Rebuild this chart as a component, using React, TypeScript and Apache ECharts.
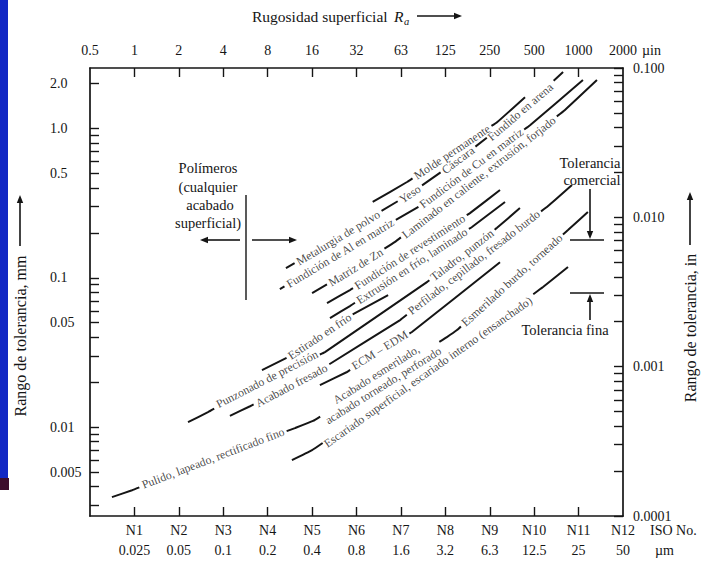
import React, { useEffect, useRef } from "react";
import * as echarts from "echarts";

const SERIF = "'Liberation Serif', 'DejaVu Serif', serif";
const INK = "#151515";
const GRID = { left: 90, top: 68, width: 533, height: 448 };
const LABEL_SIZE = 11.8;

// Top axis: Ra in micro-inches (nominal), bottom axis: ISO grade and Ra in micrometres
const topRoughnessLabels = ["0.5", "1", "2", "4", "8", "16", "32", "63", "125", "250", "500", "1000", "2000"];
const isoGrades = ["N1", "N2", "N3", "N4", "N5", "N6", "N7", "N8", "N9", "N10", "N11", "N12"];
const raMicrometres = ["0.025", "0.05", "0.1", "0.2", "0.4", "0.8", "1.6", "3.2", "6.3", "12.5", "25", "50"];

// Left axis (mm) and right axis (in)
const mmLabelValues = [2, 1, 0.5, 0.1, 0.05, 0.01, 0.005];
const mmLabelTexts = ["2.0", "1.0", "0.5", "0.1", "0.05", "0.01", "0.005"];
const mmTickValues = [2, 1, 0.9, 0.8, 0.7, 0.6, 0.5, 0.4, 0.3, 0.2, 0.1, 0.09, 0.08, 0.07, 0.06, 0.05, 0.04, 0.03, 0.02, 0.01, 0.009, 0.008, 0.007, 0.006, 0.005, 0.004, 0.003];
const inLabelValues = [0.1, 0.01, 0.001, 0.0001];
const inLabelTexts = ["0.100", "0.010", "0.001", "0.0001"];
const inTickValues = [0.1, 0.09, 0.08, 0.07, 0.06, 0.05, 0.04, 0.03, 0.02, 0.01, 0.009, 0.008, 0.007, 0.006, 0.005, 0.004, 0.003, 0.002, 0.001, 0.0009, 0.0008, 0.0007, 0.0006, 0.0005, 0.0004, 0.0003, 0.0002, 0.0001];

// Process lanes: [Ra (µm), tolerance range (mm)]
const laneMolde = [[1.03, 0.322], [1.76, 0.438], [3.55, 0.695], [7.17, 1.1], [11.1, 1.62]];
const laneArena = [[0.266, 0.116], [0.599, 0.185], [1.15, 0.276], [1.84, 0.364], [3.9, 0.614], [10.3, 1.29], [20.1, 2.39]];
const laneMatriz = [[0.242, 0.0841], [0.618, 0.146], [1.25, 0.222], [2.33, 0.317], [5.33, 0.587], [12.0, 1.05], [27.4, 2.11]];
const laneLaminado = [[0.4, 0.079], [0.794, 0.118], [1.46, 0.174], [5.67, 0.488], [20.7, 1.33], [34.1, 2.11]];
const laneRevest = [[0.505, 0.0677], [0.722, 0.0828], [1.84, 0.149], [4.7, 0.271], [7.51, 0.387]];
const laneExtrusion = [[0.529, 0.0537], [0.722, 0.0647], [1.9, 0.12], [4.85, 0.219], [8.12, 0.322]];
const laneEstirado = [[0.183, 0.0241], [0.275, 0.0294], [0.452, 0.0407], [0.757, 0.0571], [1.31, 0.0766]];
const laneTaladro = [[0.0577, 0.0108], [0.0788, 0.0126], [0.198, 0.021], [0.489, 0.0318], [2.4, 0.0936], [4.15, 0.142], [7.17, 0.216], [10.25, 0.293]];
const lanePerfilado = [[0.111, 0.0119], [0.152, 0.0138], [0.27, 0.0183], [0.474, 0.0248], [1.58, 0.0521], [5.0, 0.127], [15.9, 0.302], [23.1, 0.418]];
const laneEcm = [[0.452, 0.0191], [0.69, 0.0234], [1.15, 0.0328], [1.9, 0.0433], [7.51, 0.127]];
const lanePulido = [[0.0176, 0.0034], [0.0241, 0.00378], [0.0852, 0.0062], [0.306, 0.00985], [0.406, 0.011], [1.15, 0.0207], [3.28, 0.0401], [3.84, 0.0447], [9.05, 0.0966], [21.7, 0.209], [29.6, 0.276]];
const laneEscariado = [[0.292, 0.00601], [0.4, 0.00701], [2.44, 0.0234], [14.7, 0.0867], [21.7, 0.118]];

const lanes = [laneMolde, laneArena, laneMatriz, laneLaminado, laneRevest, laneExtrusion, laneEstirado, laneTaladro, lanePerfilado, laneEcm, lanePulido, laneEscariado];

// Labels along lanes: lane index, Ra (µm) at label centre, text
const labelLane = [0, 1, 1, 1, 1, 2, 2, 3, 3, 4, 5, 6, 7, 7, 8, 8, 9, 10, 10, 10, 11];
const labelRa = [3.55, 0.6, 1.84, 3.9, 10.3, 0.62, 4.8, 0.79, 5.4, 1.84, 1.9, 0.45, 0.198, 4.15, 0.29, 5.0, 1.15, 0.0852, 1.15, 9.05, 2.44];
const labelText = [
  "Molde permanente",
  "Metalurgia de polvo",
  "Yeso",
  "Cáscara",
  "Fundido en arena",
  "Fundición de Al en matriz",
  "Fundición de Cu en matriz",
  "Matriz de Zn",
  "Laminado en caliente, extrusión, forjado",
  "Fundición de revestimiento",
  "Extrusión en frío, laminado",
  "Estirado en frío",
  "Punzonado de precisión",
  "Taladro, punzón",
  "Acabado fresado",
  "Perfilado, cepillado, fresado burdo",
  "ECM – EDM",
  "Pulido, lapeado, rectificado fino",
  "Acabado esmerilado,\nacabado torneado, perforado",
  "Esmerilado burdo, torneado",
  "Escariado superficial, escariado interno (ensanchado)",
];

const lg = Math.log10;
const toN = (ra: number) => Math.log2(ra / 0.0125);
const Y0 = lg(0.00254);
const Y1 = lg(2.54);
const pxPerN = GRID.width / 12;
const pxPerDec = GRID.height / (Y1 - Y0);

function laneAt(pts: number[][], n: number) {
  let i = 0;
  if (n <= pts[0][0]) i = 0;
  else if (n >= pts[pts.length - 1][0]) i = pts.length - 2;
  else {
    for (let k = 0; k < pts.length - 1; k++) {
      if (n >= pts[k][0] && n <= pts[k + 1][0]) { i = k; break; }
    }
  }
  const a = pts[i], b = pts[i + 1];
  return a[1] + ((b[1] - a[1]) * (n - a[0])) / (b[0] - a[0]);
}

function nearestText(vals: number[], texts: string[], v: number) {
  let bi = 0, bd = Infinity;
  vals.forEach((x, i) => { const d = Math.abs(lg(x) - v); if (d < bd) { bd = d; bi = i; } });
  return texts[bi];
}

function arrow(x1: number, y1: number, x2: number, y2: number, head = 8, hw = 3.2) {
  const dx = x2 - x1, dy = y2 - y1, L = Math.hypot(dx, dy), ux = dx / L, uy = dy / L;
  const bx = x2 - ux * head, by = y2 - uy * head;
  return [
    { type: "line", silent: true, shape: { x1, y1, x2: bx, y2: by }, style: { stroke: INK, lineWidth: 1.6 } },
    { type: "polygon", silent: true, shape: { points: [[x2, y2], [bx - uy * hw, by + ux * hw], [bx + uy * hw, by - ux * hw]] }, style: { fill: INK } },
  ];
}

function txt(x: number, y: number, text: string, size = 14, align = "center", rot = 0, italic = false) {
  return {
    type: "text", silent: true, x, y, rotation: rot,
    style: {
      text, fill: INK, fontSize: size, fontFamily: SERIF, fontStyle: italic ? "italic" : "normal",
      align, textAlign: align, verticalAlign: "middle", textVerticalAlign: "middle",
    },
  };
}

function hline(x1: number, x2: number, y: number) {
  return { type: "line", silent: true, shape: { x1, y1: y, x2, y2: y }, style: { stroke: INK, lineWidth: 1.4 } };
}

export default function App() {
  const ref = useRef<HTMLDivElement>(null);
  useEffect(() => {
    if (!ref.current) return;
    const chart = echarts.init(ref.current, null, { renderer: "svg", width: 709, height: 564 });

    const ctx = document.createElement("canvas").getContext("2d") as CanvasRenderingContext2D;
    ctx.font = `${LABEL_SIZE}px ${SERIF}`;

    const lanePts = lanes.map((lane) => lane.map(([r, m]) => [toN(r), lg(m)]));
    const gaps: number[][][] = lanes.map(() => []);

    const labelData = labelText.map((t, i) => {
      const li = labelLane[i];
      const pts = lanePts[li];
      const n = toN(labelRa[i]);
      const y = laneAt(pts, n);
      const dy = (laneAt(pts, n + 0.5) - laneAt(pts, n - 0.5)) * pxPerDec;
      const angR = Math.atan2(dy, pxPerN);
      const w = Math.max(...t.split("\n").map((s) => ctx.measureText(s).width));
      const half = ((w / 2 + 3) * Math.cos(angR)) / pxPerN;
      gaps[li].push([n - half, n + half]);
      return { value: [n, y], name: t, label: { rotate: (angR * 180) / Math.PI } };
    });

    const laneData = lanePts.map((pts, li) => {
      const gs = gaps[li];
      const inGap = (n: number) => gs.some((g) => n > g[0] && n < g[1]);
      const items: { n: number; y: number; k: number }[] = pts
        .filter((p) => !inGap(p[0]))
        .map((p) => ({ n: p[0], y: p[1], k: 0 }));
      gs.forEach((g) => {
        items.push({ n: g[0], y: laneAt(pts, g[0]), k: 1 });
        items.push({ n: g[1], y: laneAt(pts, g[1]), k: 2 });
      });
      items.sort((a, b) => a.n - b.n || a.k - b.k);
      const out: any[] = [];
      items.forEach((it) => {
        out.push([it.n, it.y]);
        if (it.k === 1) out.push([it.n, "-"]);
      });
      return out;
    });

    const axisLine = { show: true, onZero: false, lineStyle: { color: INK, width: 1.7 } };
    const tick = { show: true, inside: true, length: 9, lineStyle: { color: INK, width: 1.4 } };
    const labelFont = { fontFamily: SERIF, fontSize: 14, color: INK };
    const inner = [1, 2, 3, 4, 5, 6, 7, 8, 9, 10, 11];

    const graphic: any[] = [
      { type: "rect", silent: true, shape: { x: 0, y: 0, width: 8, height: 480 }, style: { fill: "#1227c4" } },
      { type: "rect", silent: true, shape: { x: 0, y: 478, width: 9, height: 12 }, style: { fill: "#3d0c2c" } },
      txt(252, 16, "Rugosidad superficial", 15.5, "left"),
      txt(394, 16, "R", 15.5, "left", 0, true),
      txt(404, 21, "a", 10.5, "left", 0, true),
      ...arrow(417, 16, 462, 16),
      txt(642, 50, "µin", 14, "left"),
      txt(650, 530, "ISO No.", 14, "left"),
      txt(655, 550, "µm", 14, "left"),
      txt(20, 336, "Rango de tolerancia, mm", 16, "center", Math.PI / 2),
      ...arrow(20, 246, 20, 195),
      txt(690, 328, "Rango de tolerancia, in", 16, "center", Math.PI / 2),
      ...arrow(690, 245, 690, 192),
      txt(208, 168, "Polímeros", 14.5),
      txt(208, 187, "(cualquier", 14.5),
      txt(210, 205, "acabado", 14.5),
      txt(208, 223, "superficial)", 14.5),
      { type: "line", silent: true, shape: { x1: 246, y1: 195, x2: 246, y2: 300 }, style: { stroke: INK, lineWidth: 1.4 } },
      ...arrow(240, 240, 200, 240),
      ...arrow(252, 240, 297, 240),
      txt(590, 163, "Tolerancia", 14.5),
      txt(592, 180, "comercial", 14.5),
      ...arrow(590, 189, 590, 239),
      hline(570, 604, 240),
      hline(570, 604, 293),
      ...arrow(590, 320, 590, 294),
      txt(565, 330, "Tolerancia fina", 14.5),
    ];

    chart.setOption({
      animation: false,
      backgroundColor: "#ffffff",
      grid: { left: GRID.left, top: GRID.top, width: GRID.width, height: GRID.height },
      xAxis: [
        {
          type: "value", position: "bottom", min: 0, max: 12, interval: 1,
          axisLine, axisTick: { ...tick, customValues: inner }, splitLine: { show: false },
          axisLabel: {
            ...labelFont, margin: 4, lineHeight: 20, showMinLabel: true, showMaxLabel: true,
            customValues: [1, 2, 3, 4, 5, 6, 7, 8, 9, 10, 11, 12],
            formatter: (v: number) => (v >= 1 ? `${isoGrades[Math.round(v) - 1]}\n${raMicrometres[Math.round(v) - 1]}` : ""),
          },
        },
        {
          type: "value", position: "top", min: 0, max: 12, interval: 1,
          axisLine, axisTick: { ...tick, customValues: inner }, splitLine: { show: false },
          axisLabel: {
            ...labelFont, margin: 11, showMinLabel: true, showMaxLabel: true,
            formatter: (v: number) => topRoughnessLabels[Math.round(v)] ?? "",
          },
        },
      ],
      yAxis: [
        {
          type: "value", position: "left", min: Y0, max: Y1,
          axisLine, axisTick: { ...tick, customValues: mmTickValues.map(lg) }, splitLine: { show: false },
          axisLabel: {
            ...labelFont, margin: 40, align: "left",
            customValues: mmLabelValues.map(lg),
            formatter: (v: number) => nearestText(mmLabelValues, mmLabelTexts, v),
          },
        },
        {
          type: "value", position: "right", min: -4, max: -1,
          axisLine, axisTick: { ...tick, customValues: inTickValues.map(lg) }, splitLine: { show: false },
          axisLabel: {
            ...labelFont, margin: 10, align: "left",
            customValues: inLabelValues.map(lg),
            formatter: (v: number) => nearestText(inLabelValues, inLabelTexts, v),
          },
        },
      ],
      series: [
        ...laneData.map((data) => ({
          type: "line", data, symbol: "none", smooth: 0.15, connectNulls: false, silent: true, z: 2,
          xAxisIndex: 0, yAxisIndex: 0,
          lineStyle: { color: INK, width: 2 },
        })),
        {
          type: "scatter", data: labelData, symbolSize: 2, silent: true, z: 5,
          xAxisIndex: 0, yAxisIndex: 0,
          itemStyle: { color: "rgba(255,255,255,0)" },
          emphasis: { disabled: true },
          labelLayout: { hideOverlap: false },
          label: {
            show: true, position: "inside", formatter: (p: any) => p.name,
            fontFamily: SERIF, fontSize: LABEL_SIZE, color: INK,
            lineHeight: 13, align: "center", verticalAlign: "middle",
          },
        },
      ],
      graphic,
    });
    return () => chart.dispose();
  }, []);
  return <div ref={ref} style={{ position: "fixed", left: 0, top: 0, width: 709, height: 564, background: "#fff" }} />;
}
